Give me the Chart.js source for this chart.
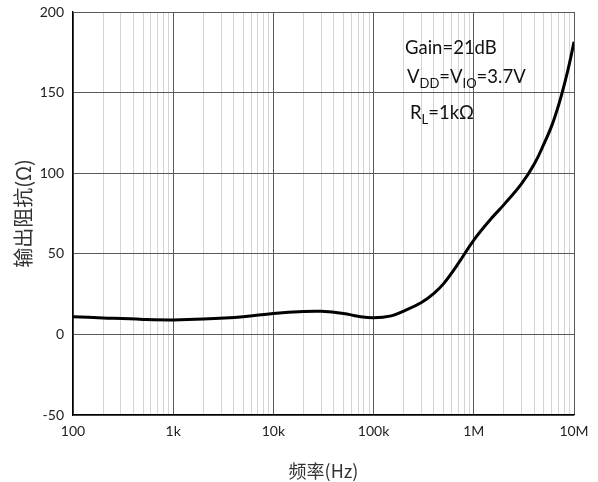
<!DOCTYPE html>
<html><head><meta charset="utf-8">
<script src="https://cdn.jsdelivr.net/npm/chart.js@4/dist/chart.umd.min.js"></script>
<style>html,body{margin:0;padding:0;background:#fff}#wrap{width:598px;height:482px}</style>
</head><body><div id="wrap"><canvas id="c" width="598" height="482"></canvas></div>
<script>
const freqHz = [100, 200, 500, 1000, 2000, 5000, 10000, 20000, 30000, 50000, 70000, 100000, 150000, 200000, 300000, 400000, 500000, 700000, 1000000, 1500000, 2000000, 3000000, 4000000, 5000000, 6000000, 7000000, 8000000, 9000000, 10000000];
const impedanceOhm = [11, 10.2, 9.3, 9, 9.5, 11, 13, 14.2, 14.3, 13, 11.2, 10.3, 11.5, 14.5, 19.8, 25.5, 31.5, 44, 58.5, 72, 80.5, 93.5, 105.5, 118, 129.5, 142, 155, 168, 181.5];
const xMajorTicks = [100, 1000, 10000, 100000, 1000000, 10000000];
const xTickLabels = ['100', '1k', '10k', '100k', '1M', '10M'];
const yTicks = [-50, 0, 50, 100, 150, 200];
const notes = ['Gain=21dB', 'V_DD=V_IO=3.7V', 'R_L=1kΩ'];

const xAllTicks = [];
for (let i = 0; i < xMajorTicks.length; i++) {
  xAllTicks.push(xMajorTicks[i]);
  if (i < xMajorTicks.length - 1) for (let m = 2; m <= 9; m++) xAllTicks.push(xMajorTicks[i] * m);
}
const FONT = 'Lato, "Open Sans", sans-serif';

const notePlugin = {
  id: 'notes',
  afterDraw(chart) {
    const ctx = chart.ctx, a = chart.chartArea;
    const size = 18.5, sub = 13;
    const lines = [
      {x: a.left + 332, y: a.top + 42},
      {x: a.left + 334, y: a.top + 71},
      {x: a.left + 337, y: a.top + 107}
    ];
    ctx.save();
    ctx.fillStyle = '#111';
    ctx.textBaseline = 'alphabetic';
    ctx.textAlign = 'left';
    notes.forEach((t, i) => {
      let x = lines[i].x, y = lines[i].y;
      const parts = t.split(/(_[A-Z]+)/);
      parts.forEach(p => {
        if (!p) return;
        if (p[0] === '_') {
          ctx.font = sub + 'px ' + FONT;
          ctx.fillText(p.slice(1), x, y + 5);
          x += ctx.measureText(p.slice(1)).width;
        } else {
          ctx.font = size + 'px ' + FONT;
          ctx.fillText(p, x, y);
          x += ctx.measureText(p).width;
        }
      });
    });
    ctx.restore();
  }
};

new Chart(document.getElementById('c'), {
  type: 'line',
  data: {
    datasets: [{
      data: freqHz.map((f, i) => ({x: f, y: impedanceOhm[i]})),
      borderColor: '#000',
      borderWidth: 3,
      pointRadius: 0,
      tension: 0.4,
      fill: false
    }]
  },
  options: {
    responsive: false,
    animation: false,
    devicePixelRatio: 1,
    layout: {padding: {top: 12, right: 24, left: 0, bottom: 0}},
    plugins: {legend: {display: false}, tooltip: {enabled: false}},
    scales: {
      x: {
        type: 'logarithmic',
        min: 100, max: 10000000,
        afterBuildTicks(s) { s.ticks = xAllTicks.map(v => ({value: v})); },
        afterFit(s) { s.height = 67; },
        ticks: {
          autoSkip: false, maxRotation: 0, minRotation: 0, padding: 8,
          color: '#222', font: {family: FONT, size: 14},
          callback(v) { const k = xMajorTicks.indexOf(v); return k >= 0 ? xTickLabels[k] : ''; }
        },
        grid: {
          drawTicks: false,
          color(c) { return xMajorTicks.includes(c.tick && c.tick.value) ? '#5a5a5a' : '#d4d4d4'; },
          lineWidth: 1
        },
        border: {color: '#000', width: 1.3},
        title: {display: true, text: '频率(Hz)', color: '#333', font: {family: '"Noto Sans CJK SC", ' + FONT, size: 18}, padding: {top: 6, bottom: 0}}
      },
      y: {
        min: -50, max: 200,
        afterBuildTicks(s) { s.ticks = yTicks.map(v => ({value: v})); },
        afterFit(s) { s.width = 73; s.paddingTop = 0; s.paddingBottom = 0; },
        ticks: {padding: 9, color: '#222', font: {family: FONT, size: 14}},
        grid: {drawTicks: false, color: '#5a5a5a', lineWidth: 1},
        border: {color: '#000', width: 1.3},
        title: {display: true, text: '输出阻抗(Ω)', color: '#333', font: {family: '"Noto Sans CJK SC", ' + FONT, size: 20}, padding: {top: 11, bottom: 0}}
      }
    }
  },
  plugins: [notePlugin]
});
</script></body></html>
